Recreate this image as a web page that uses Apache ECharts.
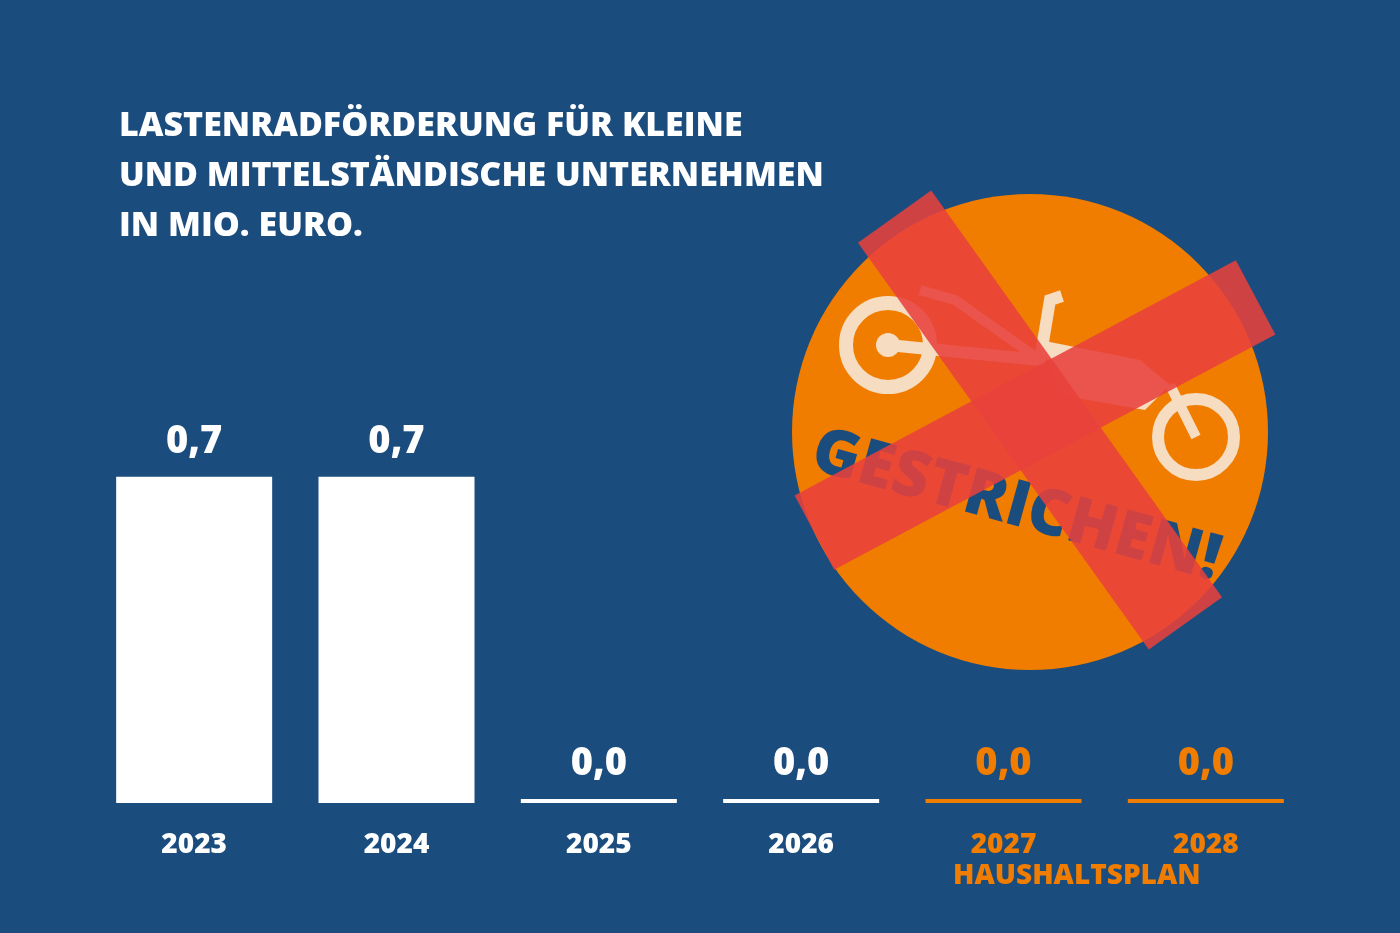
<!DOCTYPE html>
<html><head><meta charset="utf-8">
<script src="https://cdn.jsdelivr.net/npm/echarts@6/dist/echarts.min.js"></script>
<style>html,body{margin:0;padding:0;background:#1b4c7e}#c{width:1400px;height:933px}</style>
</head><body><div id="c"></div>
<script>
const years = ['2023','2024','2025','2026','2027','2028'];
const values = [0.7, 0.7, 0.0, 0.0, 0.0, 0.0];
const valueLabels = ['0,7','0,7','0,0','0,0','0,0','0,0'];
const WHITE='#ffffff', ORANGE='#f07d00', BG='#1b4c7e';
const colorFor = i => i >= 4 ? ORANGE : WHITE;
const F = '"Open Sans", Lato, sans-serif';
const chart = echarts.init(document.getElementById('c'));
const cream = '#f6dcc0';
chart.setOption({
  backgroundColor: BG,
  animation: false,
  title: {
    text: 'LASTENRADFÖRDERUNG FÜR KLEINE\nUND MITTELSTÄNDISCHE UNTERNEHMEN\nIN MIO. EURO.',
    left: 114, top: 96,
    textStyle: {color: WHITE, fontFamily: F, fontWeight: 800, fontSize: 34, lineHeight: 50}
  },
  grid: {left: 93, right: 93, top: 337, bottom: 130},
  xAxis: {
    type: 'category', data: years,
    axisLine: {show: false}, axisTick: {show: false},
    axisLabel: {
      margin: 28, fontFamily: F, fontWeight: 800, fontSize: 28,
      color: (v, i) => colorFor(i)
    }
  },
  yAxis: {type: 'value', min: 0, max: 1, show: false, splitLine: {show: false}},
  series: [{
    type: 'bar', barWidth: 156, barMinHeight: 4,
    data: values.map((v, i) => ({value: v, itemStyle: {color: colorFor(i)},
      label: {color: colorFor(i)}})),
    label: {
      show: true, position: 'top', distance: 16,
      fontFamily: F, fontWeight: 800, fontSize: 38,
      formatter: p => valueLabels[p.dataIndex]
    }
  }],
  graphic: [
    {type: 'text', left: 953, top: 862, style: {text: 'HAUSHALTSPLAN', fill: ORANGE, font: '800 28px ' + F}},
    {type: 'group', children: [
      {type: 'circle', shape: {cx: 1030, cy: 432, r: 238}, style: {fill: ORANGE}},
      // bike
      {type: 'circle', shape: {cx: 888, cy: 345, r: 42}, style: {fill: 'none', stroke: cream, lineWidth: 14}},
      {type: 'circle', shape: {cx: 888, cy: 345, r: 12}, style: {fill: cream}},
      {type: 'circle', shape: {cx: 1196, cy: 437, r: 38}, style: {fill: 'none', stroke: cream, lineWidth: 12}},
      {type: 'polyline', shape: {points: [[888,345],[1040,360],[1050,300],[1062,296]]}, style: {stroke: cream, lineWidth: 12, fill: 'none'}},
      {type: 'polyline', shape: {points: [[920,290],[955,300],[1040,360]]}, style: {stroke: cream, lineWidth: 10, fill: 'none'}},
      {type: 'polygon', shape: {points: [[1040,340],[1140,360],[1170,385],[1145,410],[1060,395]]}, style: {fill: cream}},
      {type: 'line', shape: {x1: 1170, y1: 385, x2: 1196, y2: 437}, style: {stroke: cream, lineWidth: 10}},
      {type: 'text', x: 822, y: 420, rotation: -0.27,
        style: {text: 'GESTRICHEN!', fill: BG, font: '900 64px ' + F}},
      // red cross
      {type: 'rect', x: 1040, y: 420, rotation: -0.95, shape: {x: -250, y: -45, width: 500, height: 90},
        style: {fill: 'rgba(232,65,60,0.88)'}},
      {type: 'rect', x: 1035, y: 415, rotation: 0.49, shape: {x: -250, y: -42, width: 500, height: 84},
        style: {fill: 'rgba(232,65,60,0.88)'}}
    ]}
  ]
});
</script></body></html>
